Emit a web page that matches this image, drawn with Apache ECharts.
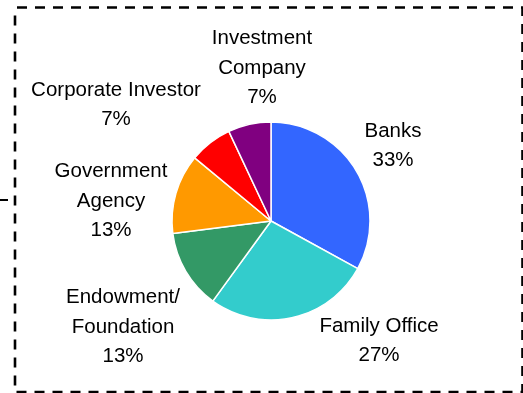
<!DOCTYPE html>
<html>
<head>
<meta charset="utf-8">
<script src="https://cdn.jsdelivr.net/npm/echarts@6/dist/echarts.min.js"></script>
<style>
  html, body { margin: 0; padding: 0; background: #fff; }
  #chart { width: 523px; height: 393px; }
</style>
</head>
<body>
<div id="chart"></div>
<script>
// Investor types and their share of the total (%)
const categories = [
  'Banks',
  'Family Office',
  'Endowment/\nFoundation',
  'Government\nAgency',
  'Corporate Investor',
  'Investment\nCompany'
];
const shares = [33, 27, 13, 13, 7, 7];
const sliceColors = ['#3366ff', '#33cccc', '#339966', '#ff9900', '#ff0000', '#800080'];

// Label anchor points (label block centres), one per slice
const labelAnchors = [
  [393, 146],
  [379, 341],
  [123, 327],
  [111, 201],
  [116, 105],
  [262, 68]
];

const chart = echarts.init(document.getElementById('chart'), null, { renderer: 'canvas' });

chart.setOption({
  animation: false,
  backgroundColor: '#ffffff',
  graphic: [
    {
      type: 'rect',
      shape: { x: 15, y: 7.5, width: 507.5, height: 384.5 },
      style: { fill: 'none', stroke: '#000', lineWidth: 2.6, lineDash: [10, 8], lineDashOffset: 16 },
      silent: true
    },
    {
      type: 'line',
      shape: { x1: 0, y1: 200, x2: 8, y2: 200 },
      style: { stroke: '#000', lineWidth: 2 },
      silent: true
    }
  ],
  series: [{
    type: 'pie',
    center: [271, 221],
    radius: 99,
    startAngle: 90,
    clockwise: true,
    data: categories.map((name, i) => ({
      name: name,
      value: shares[i],
      itemStyle: { color: sliceColors[i] }
    })),
    itemStyle: { borderColor: '#ffffff', borderWidth: 1.5 },
    label: {
      show: true,
      position: 'outside',
      formatter: p => p.name + '\n' + p.value + '%',
      fontFamily: 'Liberation Sans, Arial, sans-serif',
      fontSize: 20.5,
      lineHeight: 29.5,
      color: '#000',
      align: 'center',
      overflow: 'none',
      width: 240
    },
    labelLine: { show: false },
    labelLayout: function (params) {
      const a = labelAnchors[params.dataIndex];
      return {
        x: a[0],
        y: a[1],
        align: 'center',
        verticalAlign: 'middle',
        hideOverlap: false
      };
    },
    emphasis: { disabled: true }
  }]
});
</script>
</body>
</html>
